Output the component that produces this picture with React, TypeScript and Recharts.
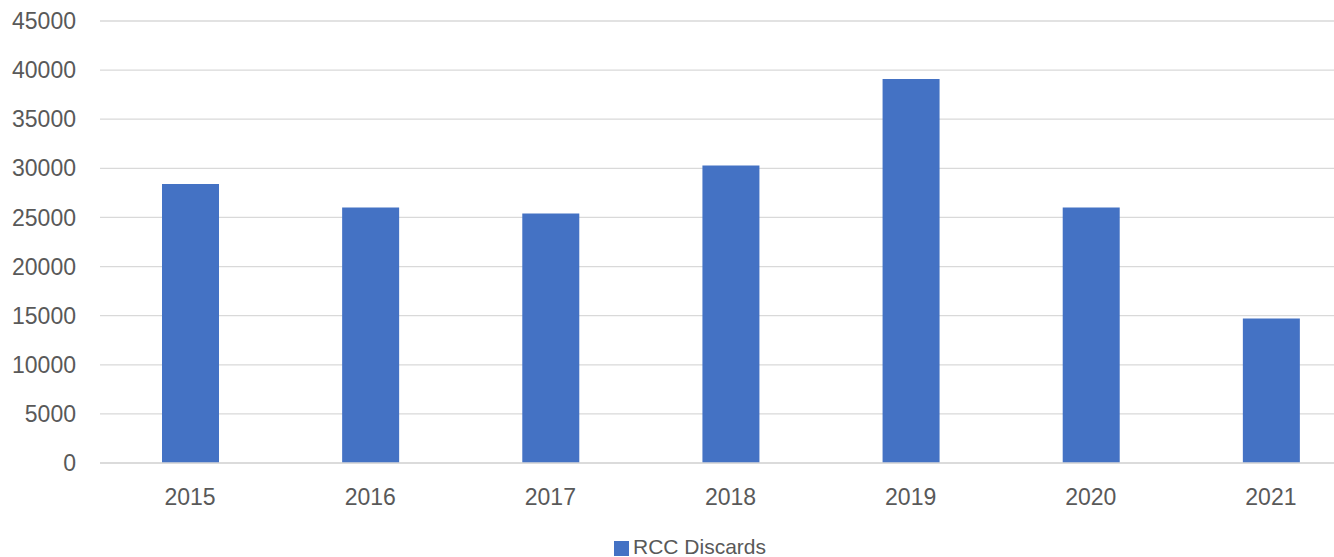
import { BarChart, Bar, XAxis, YAxis, CartesianGrid, Legend } from "recharts";

const years = ["2015", "2016", "2017", "2018", "2019", "2020", "2021"];
const discards = [28400, 26000, 25400, 30300, 39100, 26000, 14700];
const yTicks = [0, 5000, 10000, 15000, 20000, 25000, 30000, 35000, 40000, 45000];

const data = years.map((year, i) => ({ year, discards: discards[i] }));

const textColor = "#595959";
const font = "'Liberation Sans', Arial, sans-serif";

export default function App() {
  return (
    <div
      style={{
        position: "absolute",
        left: 0,
        top: 0,
        width: 1334,
        height: 557,
        overflow: "hidden",
        background: "#fff",
      }}
    >
      <BarChart
        width={1390}
        height={557}
        data={data}
        margin={{ top: 21, right: 29, left: 0, bottom: 0 }}
      >
        <CartesianGrid vertical={false} stroke="#d9d9d9" strokeWidth={1.3} />
        <XAxis
          dataKey="year"
          tickLine={false}
          tickSize={0}
          tickMargin={26}
          height={70}
          axisLine={{ stroke: "#d9d9d9", strokeWidth: 1.3 }}
          tick={{ fill: textColor, fontSize: 23, fontFamily: font }}
        />
        <YAxis
          domain={[0, 45000]}
          ticks={yTicks}
          width={100}
          axisLine={false}
          tickLine={false}
          tickSize={0}
          tickMargin={24}
          interval={0}
          tick={{ fill: textColor, fontSize: 23, fontFamily: font }}
        />
        <Legend
          verticalAlign="bottom"
          iconType="square"
          iconSize={15}
          wrapperStyle={{ left: 0, top: 535, width: 1390, fontSize: 21, lineHeight: "24px", fontFamily: font }}
          formatter={(value) => <span style={{ color: textColor }}>{value}</span>}
        />
        <Bar
          dataKey="discards"
          name="RCC Discards"
          fill="#4472C4"
          barSize={57}
          isAnimationActive={false}
        />
      </BarChart>
    </div>
  );
}
